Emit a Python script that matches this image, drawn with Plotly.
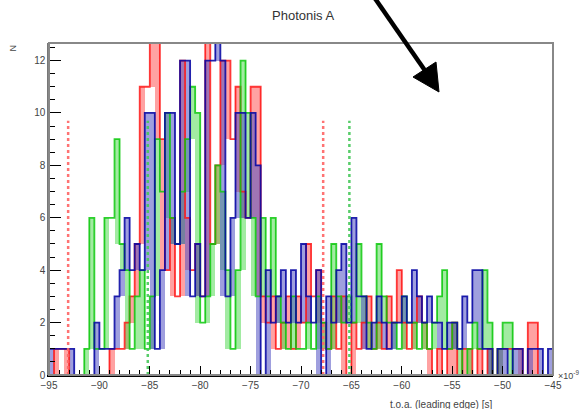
import numpy as np
import plotly.graph_objects as go

# ---------------- data ----------------
bin_lo = -95.0
bin_width = 0.5
n_bins = 100

red_counts = [0, 1, 1, 1, 0, 0, 0, 0, 0, 0,
              0, 0, 1, 1, 1, 2, 3, 5, 11, 11,
              14, 14, 9, 4, 6, 3, 12, 6, 4, 5,
              3, 14, 5, 8, 12, 12, 9, 11, 7, 6,
              11, 11, 3, 2, 3, 1, 2, 3, 1, 3,
              2, 5, 3, 4, 2, 1, 3, 1, 3, 0,
              2, 1, 2, 3, 1, 2, 1, 3, 2, 4,
              2, 1, 2, 3, 2, 1, 0, 1, 0, 1,
              2, 0, 1, 1, 0, 1, 0, 1, 0, 1,
              1, 1, 1, 1, 0, 2, 2, 0, 0, 0]

green_counts = [0, 0, 0, 0, 0, 0, 0, 1, 6, 1,
                1, 6, 6, 9, 5, 4, 1, 3, 4, 1,
                3, 9, 7, 10, 6, 5, 7, 9, 11, 10,
                2, 3, 5, 8, 7, 4, 1, 4, 12, 10,
                6, 3, 6, 3, 6, 3, 2, 1, 3, 1,
                1, 2, 1, 3, 2, 1, 5, 3, 2, 3,
                2, 5, 3, 2, 1, 5, 3, 2, 2, 1,
                3, 2, 2, 1, 2, 1, 2, 3, 4, 1,
                2, 1, 0, 1, 2, 1, 4, 2, 0, 1,
                2, 2, 0, 0, 0, 0, 0, 0, 0, 0]

blue_counts = [1, 1, 1, 1, 1, 0, 0, 0, 0, 2,
               1, 1, 1, 3, 4, 6, 4, 5, 4, 10,
               10, 1, 4, 10, 10, 5, 12, 12, 3, 5,
               3, 12, 12, 14, 12, 3, 6, 10, 10, 6,
               10, 8, 0, 4, 2, 3, 4, 2, 4, 2,
               5, 3, 2, 4, 0, 3, 2, 4, 5, 2,
               6, 3, 3, 1, 2, 3, 2, 1, 2, 2,
               3, 2, 4, 3, 2, 3, 2, 2, 1, 2,
               2, 1, 3, 2, 4, 4, 1, 1, 0, 1,
               1, 0, 1, 1, 0, 1, 1, 1, 0, 1]

# dashed markers (position, height)
red_marks = [-93.1, -67.8]
green_marks = [-85.2, -65.2]
mark_height = 9.7

x_tick_vals = [-95, -90, -85, -80, -75, -70, -65, -60, -55, -50, -45]
y_tick_vals = [0, 2, 4, 6, 8, 10, 12]

# ---------------- figure ----------------
edges = bin_lo + bin_width * np.arange(n_bins + 1)
centers = edges[:-1] + bin_width / 2

fig = go.Figure()


def add_hist(counts, fill, line):
    v = np.array(counts, dtype=float)
    left = np.concatenate([[0.0], v[:-1]])
    right = np.concatenate([v[1:], [0.0]])
    lo = np.minimum(np.minimum(left, right), v)
    fig.add_trace(go.Bar(x=centers, y=v - lo, base=lo, width=bin_width,
                         marker=dict(color=fill, line=dict(width=0)),
                         showlegend=False, hoverinfo="skip"))
    fig.add_trace(go.Scatter(x=list(edges), y=list(v) + [v[-1]],
                             mode="lines", line=dict(shape="hv", color=line, width=1.8),
                             showlegend=False, hoverinfo="skip"))


add_hist(red_counts, "rgba(255,70,70,0.5)", "rgba(255,20,20,0.85)")
add_hist(green_counts, "rgba(70,215,70,0.5)", "rgba(10,200,10,0.85)")
add_hist(blue_counts, "rgba(80,80,195,0.55)", "rgba(10,10,165,0.9)")

for xm in red_marks:
    fig.add_trace(go.Scatter(x=[xm, xm], y=[0, mark_height], mode="lines",
                             line=dict(color="rgba(255,100,100,0.9)", width=2.5, dash="3px,3px"),
                             showlegend=False, hoverinfo="skip"))
for xm in green_marks:
    fig.add_trace(go.Scatter(x=[xm, xm], y=[0, mark_height], mode="lines",
                             line=dict(color="rgba(70,200,90,0.9)", width=2.5, dash="3px,3px"),
                             showlegend=False, hoverinfo="skip"))

font_fam = "Liberation Sans, Arial, sans-serif"

fig.update_layout(
    width=581, height=409,
    margin=dict(l=49, r=28, t=43, b=34),
    paper_bgcolor="white", plot_bgcolor="white",
    barmode="overlay", bargap=0,
    font=dict(family=font_fam, size=10, color="#444"),
    xaxis=dict(range=[-95, -45], tickvals=x_tick_vals, ticks="inside", ticklen=9,
               tickcolor="black", showgrid=False, zeroline=False,
               showline=True, linecolor="black", linewidth=1.5,
               tickfont=dict(size=10, color="#444"),
               minor=dict(dtick=1, ticks="inside", ticklen=5, tickcolor="black", showgrid=False)),
    yaxis=dict(range=[0, 12.67], tickvals=y_tick_vals, ticks="inside", ticklen=12,
               tickcolor="black", showgrid=False, zeroline=False,
               showline=True, linecolor="#777", linewidth=1.5,
               tickfont=dict(size=10, color="#444"),
               minor=dict(dtick=0.5, ticks="inside", ticklen=6, tickcolor="black", showgrid=False)),
)

# frame (top / right)
fig.add_shape(type="rect", xref="paper", yref="paper", x0=0, y0=0, x1=1, y1=1,
              line=dict(color="#888", width=2))

fig.add_annotation(text="Photonis A", xref="paper", yref="paper", x=0.503, y=1.0,
                   yshift=28, showarrow=False, font=dict(size=13, color="#333"),
                   xanchor="center", yanchor="middle")
fig.add_annotation(text="N", xref="paper", yref="paper", x=0, xshift=-37, y=1.0,
                   showarrow=False, textangle=-90, font=dict(size=9, color="#444"),
                   xanchor="center", yanchor="top")
fig.add_annotation(text="t.o.a. (leading edge) [s]", xref="paper", yref="paper",
                   x=(495 - 49) / 504, y=0, yshift=-22, showarrow=False,
                   font=dict(size=10, color="#444"), xanchor="right", yanchor="top")
fig.add_annotation(text="\u00d710<sup>-9</sup>", xref="paper", yref="paper",
                   x=1, xshift=3, y=0, showarrow=False,
                   font=dict(size=9, color="#444"), xanchor="left", yanchor="middle")


# arrow drawn as shapes (pixel positions converted to paper units)
def px(xp):
    return (xp - 49) / 504


def py(yp):
    return (375 - yp) / 332


fig.add_shape(type="line", xref="paper", yref="paper",
              x0=px(374), y0=py(-3), x1=px(426), y1=py(72),
              line=dict(color="black", width=4.5))
fig.add_shape(type="path", xref="paper", yref="paper",
              path=f"M {px(439)} {py(92)} L {px(413)} {py(77)} L {px(436)} {py(62)} Z",
              fillcolor="black", line=dict(color="black", width=1))

fig.write_html("out.html")
